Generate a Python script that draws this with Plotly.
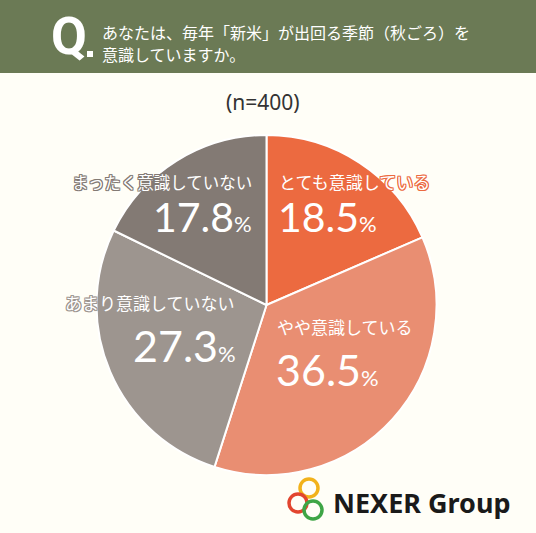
import plotly.graph_objects as go

W, H = 536, 533

categories = ["とても意識している", "やや意識している", "あまり意識していない", "まったく意識していない"]
values = [18.5, 36.5, 27.3, 17.8]
colors = ["#ec6a40", "#e98e72", "#9d958f", "#837a74"]
sample_note = "(n=400)"
question = ["あなたは、毎年「新米」が出回る季節（秋ごろ）を", "意識していますか。"]

JP = "Noto Sans CJK JP"
NUM = "Lato"


def px(x, y):
    return x / W, 1 - y / H


def outline(c):
    return ", ".join(f"{a}px {b}px 0 {c}" for a in (-1, 0, 1) for b in (-1, 0, 1) if a or b)


fig = go.Figure(go.Pie(
    labels=categories,
    values=values,
    sort=False,
    direction="clockwise",
    rotation=0,
    textinfo="none",
    hoverinfo="label+percent",
    marker=dict(colors=colors, line=dict(color="white", width=2)),
    domain=dict(x=[95 / W, 438 / W], y=[1 - 475 / H, 1 - 135 / H]),
    showlegend=False,
))

shapes = [
    dict(type="rect", xref="paper", yref="paper", x0=0, x1=1, y0=1 - 73 / H, y1=1,
         fillcolor="#6b7a55", line_width=0, layer="below"),
    dict(type="rect", xref="paper", yref="paper", x0=87 / W, x1=93 / W, y0=1 - 57 / H, y1=1 - 51 / H,
         fillcolor="white", line_width=0),
]

# logo rings
for cx, cy, col in [(309, 488, "#f2b21b"), (298, 503, "#e2452f"), (313, 510, "#3ea546")]:
    x0, y0 = px(cx - 9, cy - 9)
    x1, y1 = px(cx + 9, cy + 9)
    shapes.append(dict(type="circle", xref="paper", yref="paper", x0=x0, x1=x1, y0=y1, y1=y0,
                       line=dict(color=col, width=3.5), fillcolor="rgba(0,0,0,0)"))

ann = []


def add(text, x, y, size, color="white", family=JP, xanchor="left", shadow=None, weight="normal"):
    ax, ay = px(x, y)
    ann.append(dict(text=text, x=ax, y=ay, xref="paper", yref="paper", showarrow=False,
                    xanchor=xanchor, yanchor="middle",
                    font=dict(size=size, color=color, family=family, weight=weight,
                              shadow=shadow if shadow else "none")))


# header
add("Q", 49, 36, 52, family="Roboto", weight="bold")
add(question[0], 100, 32, 16)
add(question[1], 100, 54, 16)
add(sample_note, 263, 102, 21, color="#333333", family="Noto Sans", xanchor="center")

pct = lambda v: f"{v}<span style='font-size:22px'>%</span>"

# slice labels
add(categories[0], 277, 181, 17, shadow=outline(colors[0]))
add(pct(values[0]), 276, 217, 41, family=NUM)
add(categories[1], 275, 326, 17, shadow=outline(colors[1]))
add(pct(values[1]), 274, 369, 43, family=NUM)
add(categories[2], 237, 302, 17, xanchor="right", shadow=outline(colors[2]))
add(pct(values[2]), 238, 345, 43, family=NUM, xanchor="right")
add(categories[3], 254, 182, 16.5, xanchor="right", shadow=outline(colors[3]))
add(pct(values[3]), 254, 217, 41, family=NUM, xanchor="right")

# logo text
add("NEXER Group", 331, 502, 27, color="#1a1a1a", family="Noto Sans", weight="bold")

fig.update_layout(
    width=W, height=H,
    margin=dict(l=0, r=0, t=0, b=0),
    paper_bgcolor="#fffef7",
    plot_bgcolor="#fffef7",
    shapes=shapes,
    annotations=ann,
)

fig.write_html("out.html", config={"displayModeBar": False},
               post_script="document.body.style.margin='0';")
